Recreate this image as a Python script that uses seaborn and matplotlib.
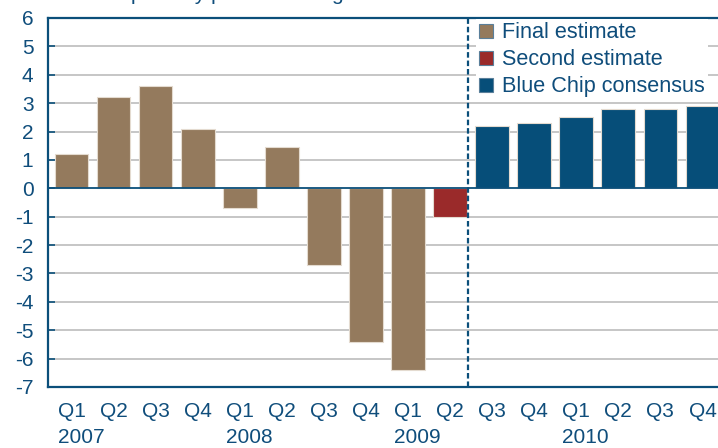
import matplotlib
matplotlib.use("Agg")
import matplotlib.pyplot as plt
import matplotlib.transforms as mtransforms
import seaborn as sns
import pandas as pd

# ---- data ----
years = ["2007", "2008", "2009", "2010"]
quarters = ["Q1", "Q2", "Q3", "Q4"]
final_estimate = [1.2, 3.2, 3.6, 2.1, -0.7, 1.45, -2.7, -5.4, -6.4]          # 2007Q1-2009Q1
second_estimate = [-1.0]                                                    # 2009Q2
blue_chip = [2.2, 2.3, 2.5, 2.8, 2.8, 2.9]                                  # 2009Q3-2010Q4
series_names = ["Final estimate", "Second estimate", "Blue Chip consensus"]
y_ticks = list(range(-7, 7))
top_label = "quarterly percent change"

# ---- build table ----
keys = [f"{y} {q}" for y in years for q in quarters]
values = final_estimate + second_estimate + blue_chip
series = ([series_names[0]] * len(final_estimate) + [series_names[1]] * len(second_estimate)
          + [series_names[2]] * len(blue_chip))
df = pd.DataFrame({"period": keys, "value": values, "series": series})

text_c = "#0f4d7b"
axis_c = "#0b4f7a"
palette = {series_names[0]: "#947a5d", series_names[1]: "#9a2a2a", series_names[2]: "#064e79"}

sns.set_theme(style="white")
plt.rcParams["font.family"] = ["Liberation Sans", "DejaVu Sans"]

fig = plt.figure(figsize=(7.18, 4.48), dpi=100)
ax = fig.add_axes([48 / 718, 1 - 387 / 448, 1 - 48 / 718, (387 - 18) / 448])

sns.barplot(data=df, x="period", y="value", hue="series", order=keys,
            hue_order=series_names, palette=palette, dodge=False, width=0.8,
            edgecolor="#e4dbd0", linewidth=0.8, ax=ax, saturation=1)

ax.set_ylim(-7, 6)
ax.set_xlim(-0.56, 15.37)
ax.set_yticks(y_ticks)
ax.set_yticklabels([str(t) for t in y_ticks])
for t in y_ticks:
    if t not in (0, -7, 6):
        ax.axhline(t, color="#c6c6c6", lw=1.4, zorder=0)
ax.axhline(0, color=axis_c, lw=1.3, zorder=3)

ax.set_xticks(range(len(keys)))
ax.set_xticklabels([k.split()[1] for k in keys])
ax.set_xlabel("")
ax.set_ylabel("")

ax.tick_params(axis="y", direction="in", length=5, width=1.2, color=axis_c,
               labelsize=15, labelcolor=text_c, pad=10.5, left=True)
ax.tick_params(axis="x", length=0, labelsize=15, labelcolor=text_c, pad=10.5)

for s in ["left", "top", "bottom"]:
    ax.spines[s].set_color(axis_c)
    ax.spines[s].set_linewidth(1.6)
ax.spines["right"].set_visible(False)

# year labels left-aligned with Q1
trans = mtransforms.blended_transform_factory(ax.transData, fig.transFigure)
for i, y in enumerate(years):
    ax.text(i * 4 - 0.33, 1 - 437.5 / 448, y, transform=trans, ha="left", va="center",
            fontsize=15, color=text_c, clip_on=False)

# forecast divider
ax.axvline(9.43, color=axis_c, lw=1.6, linestyle=(0, (2.5, 1.3)), zorder=4)

# partially visible header
fig.text(124 / 718, 1 - 0.5 / 448, top_label, ha="left", va="baseline",
         fontsize=15, color=text_c)

# legend
handles, labels = ax.get_legend_handles_labels()
leg = ax.legend(handles, labels, loc="upper left", bbox_to_anchor=(476 / 718, 1 - 19 / 448),
                bbox_transform=fig.transFigure, frameon=True, fancybox=False,
                facecolor="white", edgecolor="none", framealpha=1, fontsize=15.6,
                handlelength=0.62, handleheight=0.62, handletextpad=0.42,
                labelspacing=0.28, borderpad=0.15, borderaxespad=0)
for t in leg.get_texts():
    t.set_color(text_c)
for h in leg.legend_handles:
    h.set_edgecolor("#5a7f9a")
    h.set_linewidth(0.8)
leg.set_zorder(5)

fig.savefig("out.png", dpi=100)
